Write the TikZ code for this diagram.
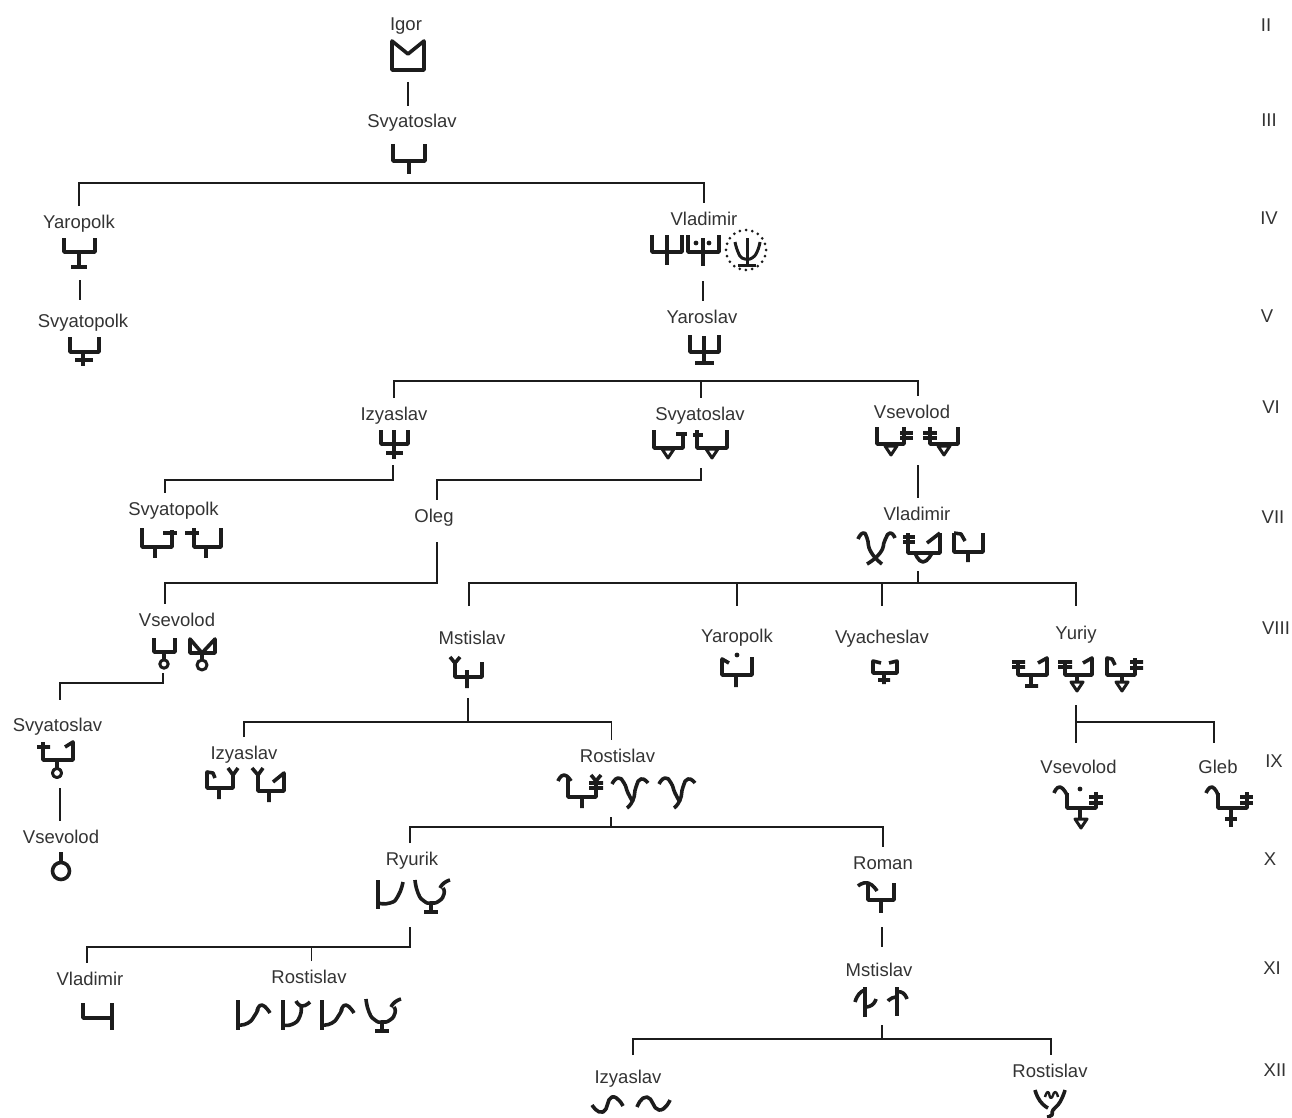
\documentclass[tikz,border=0pt]{standalone}
\usepackage{fontspec}
\setmainfont{Liberation Sans}
\definecolor{ink}{HTML}{1C1C1C}
\definecolor{txt}{HTML}{333333}
\tikzset{
  person/.style={anchor=base,inner sep=0pt,outer ysep=9pt,text height=13pt,text depth=4pt,
                 text=txt,font=\fontsize{18.5}{20}\selectfont},
  link/.style={draw=ink,line width=1.6pt},
  pen/.style={draw=ink,line width=3.6pt,line join=round,tension=1},
  tri/.pic={\draw[pen,line width=3pt] (-6,0) -- (6,0) -- (0,9) -- cycle;},
  lyre/.pic={\draw[pen] plot[smooth] coordinates {(-18,-6) (-12,-12) (-6,-7) (-2,3) (3,12)};
             \draw[pen] plot[smooth] coordinates {(18,-7) (11,-11) (6,-3) (3,10) (-3,18)};},
  bowl/.pic={\draw[pen] (0,-15) -- (0,15);
             \draw[pen] plot[smooth] coordinates {(0,10) (10,8) (17,0) (20,-6)};
             \draw[pen] plot[smooth] coordinates {(19,-4) (24,-10) (32,-2)};},
  yfork/.pic={\draw[pen] plot[smooth] coordinates {(-16,-23) (-13,-10) (-7,-2) (0,0) (8,-2) (13,-9) (12,-15)};
              \draw[pen] plot[smooth] coordinates {(9,-15) (13,-20) (19,-23)};
              \draw[pen] (0,0) -- (0,8) (-7,9) -- (7,9);}
}
\begin{document}
\begin{tikzpicture}[x=1pt,y=-1pt]
  \useasboundingbox (0,0) rectangle (1292,1118);

  \node[person] (igor)        at (406,31)    {Igor};
  \node[person] (svyatoslavA) at (412,128)   {Svyatoslav};
  \node[person] (yaropolkA)   at (79,228)    {Yaropolk};
  \node[person] (vladimirA)   at (704,225)   {Vladimir};
  \node[person] (svyatopolkA) at (83,327)    {Svyatopolk};
  \node[person] (yaroslav)    at (702,323)   {Yaroslav};
  \node[person] (izyaslavA)   at (394,420)   {Izyaslav};
  \node[person] (svyatoslavB) at (700,420)   {Svyatoslav};
  \node[person] (vsevolodA)   at (912,418)   {Vsevolod};
  \node[person] (svyatopolkB) at (173.5,515) {Svyatopolk};
  \node[person] (oleg)        at (434,522)   {Oleg};
  \node[person] (vladimirB)   at (917,520)   {Vladimir};
  \node[person] (vsevolodB)   at (177,626)   {Vsevolod};
  \node[person] (mstislavA)   at (472,644)   {Mstislav};
  \node[person] (yaropolkB)   at (737,642)   {Yaropolk};
  \node[person] (vyacheslav)  at (882,643)   {Vyacheslav};
  \node[person] (yuriy)       at (1076,639)  {Yuriy};
  \node[person] (svyatoslavC) at (57.5,731)  {Svyatoslav};
  \node[person] (izyaslavB)   at (244,759)   {Izyaslav};
  \node[person] (rostislavA)  at (617.5,762) {Rostislav};
  \node[person] (vsevolodD)   at (1078.5,773) {Vsevolod};
  \node[person] (gleb)        at (1218,773)  {Gleb};
  \node[person] (vsevolodC)   at (61,843)    {Vsevolod};
  \node[person] (ryurik)      at (412,865)   {Ryurik};
  \node[person] (roman)       at (883,869)   {Roman};
  \node[person] (vladimirC)   at (90,985)    {Vladimir};
  \node[person] (rostislavB)  at (309,983)   {Rostislav};
  \node[person] (mstislavB)   at (879,976)   {Mstislav};
  \node[person] (izyaslavC)   at (628,1083)  {Izyaslav};
  \node[person] (rostislavC)  at (1050,1077) {Rostislav};

  \foreach \rk/\xx/\yy in {II/1266/32,III/1269/127,IV/1269/224,V/1267/322,VI/1271/413,VII/1273/523,
                           VIII/1276/634,IX/1274/767,X/1270/865,XI/1272/974,XII/1275/1076}
    \node[person] (rank\rk) at (\xx,\yy) {\rk};

  \coordinate (igorOut)        at (408,82);
  \coordinate (svyatoslavBus)  at (408,183);
  \coordinate (yaropolkOut)    at (80,280);
  \coordinate (vladimirOut)    at (703,281);
  \coordinate (yaroslavBus)    at (701,381);
  \coordinate (izyaslavOut)    at (393,465);
  \coordinate (svyatoslavOut)  at (701,468);
  \coordinate (vsevolodOut)    at (918,465);
  \coordinate (vladimirBOut)   at (918,571);
  \coordinate (vladimirBus)    at (918,583);
  \coordinate (vsevolodBOut)   at (163,673);
  \coordinate (mstislavOut)    at (468,698);
  \coordinate (mstislavBus)    at (468,722);
  \coordinate (yuriyOut)       at (1076,705);
  \coordinate (yuriyBranch)    at (1076,722);
  \coordinate (svyatoslavCOut) at (60,788);
  \coordinate (rostislavOut)   at (611,817);
  \coordinate (rostislavBus)   at (611,827);
  \coordinate (ryurikOut)      at (410,927);
  \coordinate (ryurikBus)      at (410,947);
  \coordinate (romanOut)       at (882,927);
  \coordinate (mstislavBOut)   at (882,1025);
  \coordinate (mstislavBBus)   at (882,1039);

  \draw[link] (igorOut) -- (igorOut |- svyatoslavA.north);
  \draw[link] (yaropolkA.north) |- (svyatoslavBus) -| (vladimirA.north);
  \draw[link] (yaropolkOut) -- ([yshift=5pt]yaropolkOut |- svyatopolkA.north);
  \draw[link] (vladimirOut) -- (vladimirOut |- yaroslav.north);
  \draw[link] (izyaslavA.north) |- (yaroslavBus) -| ([xshift=6pt]vsevolodA.north);
  \draw[link] (yaroslavBus) -- (yaroslavBus |- svyatoslavB.north);
  \draw[link] (izyaslavOut) -- ++(0,15) -| ([xshift=-8.5pt]svyatopolkB.north);
  \draw[link] (svyatoslavOut) -- ++(0,12) -| ([xshift=3pt]oleg.north);
  \draw[link] ([xshift=3pt,yshift=-7pt]oleg.south) -- ++(0,41) -| ([xshift=-12pt]vsevolodB.north);
  \draw[link] (vsevolodOut) -- (vsevolodOut |- vladimirB.north);
  \draw[link] (vladimirBOut) -- (vladimirBus);
  \draw[link] ([xshift=-3pt,yshift=16pt]mstislavA.north) |- (vladimirBus) -| ([yshift=11pt]yuriy.north);
  \draw[link] (vladimirBus -| yaropolkB.north) -- ([yshift=14pt]yaropolkB.north);
  \draw[link] (vladimirBus -| vyacheslav.north) -- ([yshift=15pt]vyacheslav.north);
  \draw[link] (vsevolodBOut) -- ++(0,10) -| ([xshift=2.5pt,yshift=9pt]svyatoslavC.north);
  \draw[link] (svyatoslavCOut) -- (svyatoslavCOut |- vsevolodC.north);
  \draw[link] (mstislavOut) -- (mstislavBus);
  \draw[link] (izyaslavB.north) |- (mstislavBus) -| ([xshift=-6pt]rostislavA.north);
  \draw[link] (yuriyOut) -- ([xshift=-2.5pt,yshift=8pt]vsevolodD.north);
  \draw[link] (yuriyBranch) -| ([xshift=-4pt,yshift=8pt]gleb.north);
  \draw[link] (rostislavOut) -- (rostislavBus);
  \draw[link] ([xshift=-2pt]ryurik.north) |- (rostislavBus) -| (roman.north);
  \draw[link] (ryurikOut) -- (ryurikBus) -| ([xshift=-3pt]vladimirC.north);
  \draw[link] ([xshift=2.5pt]rostislavB.north) -- ([xshift=2.5pt]rostislavB.north |- ryurikBus);
  \draw[link] (romanOut) -- ([yshift=7pt]romanOut |- mstislavB.north);
  \draw[link] (mstislavBOut) -- (mstislavBBus);
  \draw[link] ([xshift=5pt,yshift=6pt]izyaslavC.north) |- (mstislavBBus) -| ([xshift=1pt]rostislavC.north);

  % II - V
  \draw[pen] (392,41) -- (408,54) -- (424,41) -- (424,70) -- (392,70) -- cycle;
  \draw[pen] (393,144) |- (425,161) -- (425,144) (409,161) -- (409,174);
  \draw[pen] (64,238) |- (95,252) -- (95,238) (79,252) -- (79,267) (71,267) -- (87,267);
  \draw[pen] (70,337) |- (99,352) -- (99,337) (83,352) -- (83,366) (75,360) -- (93,360);
  \draw[pen] (652,235) |- (682,252) -- (682,235) (667,235) -- (667,265);
  \draw[pen] (688,235) |- (719,252) -- (719,235) (703,238) -- (703,266);
  \fill[ink] (696,243) circle (2.4) (709,243) circle (2.4);
  \draw[pen] (690,335) |- (719,352) -- (719,335) (704,336) -- (704,363) (695,363) -- (714,363);
  % dotted circle
  \draw[draw=ink,line width=3pt,line cap=round,dash pattern=on 0pt off 6.28pt] (746,250) circle (20);
  \draw[pen,line width=3pt] (747,238) -- (747,264) (738,265) -- (756,265);
  \draw[pen,line width=3pt] plot[smooth] coordinates {(735,242) (738,252) (742,258) (747,259)};
  \draw[pen,line width=3pt] plot[smooth] coordinates {(760,242) (757,252) (752,258) (747,259)};
  % VI
  \draw[pen] (381,430) |- (408,444) -- (408,430) (394,430) -- (394,459) (386,453) -- (403,453);
  \draw[pen] (654,430) |- (683,448) -- (683,432) (676,434) -- (687,434);
  \pic at (668,449) {tri};
  \draw[pen] (697,430) |- (727,448) -- (727,430) (693,435) -- (703,435);
  \pic at (712,449) {tri};
  \draw[pen] (877,427) |- (904,444) -- (904,427) (900,433) -- (913,433) (900,438) -- (913,438);
  \pic at (891,446) {tri};
  \draw[pen] (930,427) |- (958,444) -- (958,427) (923,433) -- (937,433) (923,438) -- (937,438);
  \pic at (944,446) {tri};
  % VII
  \draw[pen] (142,528) |- (172,547) -- (172,530) (163,533) -- (177,533) (155,547) -- (155,558);
  \draw[pen] (194,528) |- (221,547) -- (221,528) (185,533) -- (199,533) (206,547) -- (206,558);
  \draw[pen] plot[smooth] coordinates {(858,539) (863,533) (867,538) (871,552) (882,564)};
  \draw[pen] plot[smooth] coordinates {(895,538) (890,533) (885,540) (880,553) (867,564)};
  \draw[pen] (940,533) -- (927,543) (940,533) -- (940,553) -- (908,553) -- (908,533);
  \draw[pen] (903,537) -- (915,537) (903,542) -- (915,542);
  \draw[pen] plot[smooth] coordinates {(915,553) (923,562) (932,553)};
  \draw[pen] (954,533) -- (961,534) -- (965,541) (954,533) |- (983,552) -- (983,533) (968,552) -- (968,562);
  % VIII
  \draw[pen] (154,638) |- (175,652) -- (175,638) (164,652) -- (164,660);
  \draw[pen,line width=3pt] (164,664) circle (4.2);
  \draw[pen] (190,639) -- (202,653) -- (215,639) -- (215,653) -- (190,653) -- cycle (202,653) -- (202,660);
  \draw[pen,line width=3pt] (202,665) circle (5);
  \draw[pen] (450,657) -- (455,663) -- (460,657) (455,663) |- (482,677) -- (482,662) (467,670) -- (467,688);
  \draw[pen] (729,663) -- (722,659) |- (752,675) -- (752,657) (736,675) -- (736,687);
  \fill[ink] (737,655) circle (2.4);
  \draw[pen] (881,663) -- (873,661) |- (897,673) -- (897,661) -- (889,663) (884,673) -- (884,684) (878,680) -- (890,680);
  \draw[pen] (1018,662) |- (1047,675) -- (1047,658) -- (1038,663) (1012,662) -- (1025,662) (1012,667) -- (1025,667)
             (1031,675) -- (1031,685) (1025,686) -- (1038,686);
  \draw[pen] (1065,662) |- (1092,675) -- (1092,658) -- (1083,663) (1058,662) -- (1072,662) (1058,667) -- (1072,667)
             (1077,675) -- (1077,682);
  \pic at (1077,682) {tri};
  \draw[pen] (1115,665) -- (1112,659) -- (1107,658) |- (1135,675) -- (1135,658) (1130,662) -- (1143,662) (1130,668) -- (1143,668)
             (1122,675) -- (1122,682);
  \pic at (1122,682) {tri};
  \draw[pen] (43,742) |- (73,760) -- (73,742) -- (65,747) (37,747) -- (50,747) (57,760) -- (57,768);
  \draw[pen,line width=3pt] (57,773) circle (4.6);
  % IX
  \draw[pen] (215,778) -- (213,773) -- (207,772) |- (233,788) -- (233,775) (228,768) -- (233,775) -- (238,768) (219,788) -- (219,799);
  \draw[pen] (252,768) -- (258,775) -- (263,768) (258,775) |- (284,791) -- (284,773) -- (273,782) (269,791) -- (269,802);
  \draw[pen] plot[smooth] coordinates {(558,781) (564,775) (571,781)};
  \draw[pen] (568,778) |- (596,797) -- (596,781) (591,775) -- (596,781) -- (601,775) (589,783) -- (603,783) (589,788) -- (603,788)
             (582,797) -- (582,808);
  \pic at (630,790) {lyre};
  \pic at (677,790) {lyre};
  \draw[pen] plot[smooth] coordinates {(1054,793) (1060,787) (1067,795)};
  \draw[pen] (1067,793) |- (1096,808) -- (1096,792) (1089,797) -- (1103,797) (1089,803) -- (1103,803) (1080,808) -- (1080,820);
  \pic at (1081,819) {tri};
  \fill[ink] (1080,789) circle (2.4);
  \draw[pen] plot[smooth] coordinates {(1206,793) (1212,787) (1218,795)};
  \draw[pen] (1218,793) |- (1247,808) -- (1247,792) (1240,797) -- (1253,797) (1240,803) -- (1253,803) (1231,808) -- (1231,827)
             (1225,819) -- (1237,819);
  % X - XI
  \draw[pen] (61,852) -- (61,862);
  \draw[pen] (61,871) circle (8.5);
  \draw[pen] (378,880) -- (378,909);
  \draw[pen] plot[smooth] coordinates {(378,903) (390,903) (398,896) (403,882)};
  \pic at (431,903) {yfork};
  \draw[pen] plot[smooth] coordinates {(858,886) (868,883) (877,891)};
  \draw[pen] (868,883) |- (894,900) -- (894,883) (881,900) -- (881,913);
  \draw[pen] (83,1003) -- (83,1018) -- (112,1018) (112,1003) -- (112,1030);
  \pic at (238,1015) {bowl};
  \draw[pen] (283,1000) -- (283,1030);
  \draw[pen] plot[smooth] coordinates {(283,1025) (293,1024) (300,1016) (301,1006)};
  \draw[pen] plot[smooth] coordinates {(296,1001) (302,1006) (310,1002)};
  \pic at (322,1015) {bowl};
  \pic at (382,1022) {yfork};
  \draw[pen] (865,987) -- (865,1017) (897,987) -- (897,1016);
  \draw[pen] plot[smooth] coordinates {(855,1002) (859,994) (865,990)};
  \draw[pen] plot[smooth] coordinates {(876,999) (872,1005) (865,1007)};
  \draw[pen] plot[smooth] coordinates {(888,1001) (892,998) (897,997)};
  \draw[pen] plot[smooth] coordinates {(897,992) (903,993) (907,999)};
  % XII
  \draw[pen] plot[smooth] coordinates {(592,1105) (603,1112) (612,1097) (623,1106)};
  \draw[pen] plot[smooth] coordinates {(637,1107) (647,1097) (659,1110) (670,1100)};
  \draw[pen] plot[smooth] coordinates {(1035,1090) (1040,1101) (1048,1108)};
  \draw[pen] plot[smooth] coordinates {(1065,1090) (1060,1102) (1053,1110) (1052,1115) (1047,1117)};
  \draw[pen,line width=2.4pt] plot[smooth] coordinates {(1045,1097) (1048,1092) (1051,1098) (1055,1092) (1058,1097)};
\end{tikzpicture}
\end{document}
